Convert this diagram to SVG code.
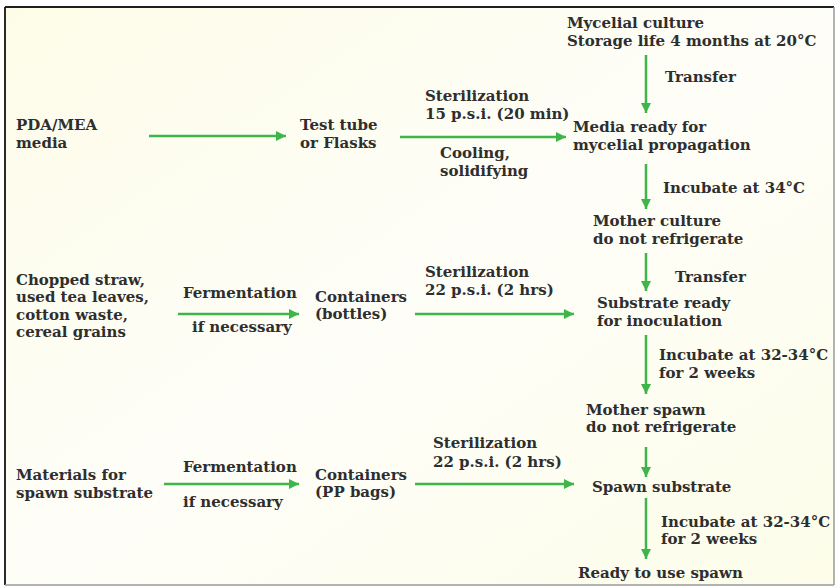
<svg xmlns="http://www.w3.org/2000/svg" width="836" height="587" viewBox="0 0 836 587">
<defs>
<linearGradient id="bg" x1="0" y1="0" x2="1" y2="1">
<stop offset="0" stop-color="#fdfce8"/>
<stop offset="0.5" stop-color="#fefef8"/>
<stop offset="1" stop-color="#fdfdea"/>
</linearGradient>
<marker id="ah" markerUnits="userSpaceOnUse" markerWidth="12" markerHeight="10" refX="10" refY="5" orient="auto">
<path d="M0,0 L10,5 L0,10 Z" fill="#3db54a"/>
</marker>
<style>
text{font-family:"DejaVu Serif","Liberation Serif",serif;font-weight:bold;font-size:15px;fill:#2e2e2e}
.c line{stroke:#3db54a;stroke-width:2.5;marker-end:url(#ah)}
</style>
</defs>
<rect x="0" y="0" width="836" height="587" fill="#ffffff"/>
<rect x="5" y="7" width="829" height="578" fill="url(#bg)"/>
<line x1="5" y1="7" x2="834" y2="7" stroke="#1e1e1e" stroke-width="2"/>
<line x1="5" y1="7" x2="5" y2="585" stroke="#2a2a2a" stroke-width="2"/>
<line x1="834" y1="7" x2="834" y2="585" stroke="#9a9a9a" stroke-width="1.5"/>
<line x1="5" y1="585" x2="834" y2="585" stroke="#9a9a9a" stroke-width="1.5"/>

<g class="c" id="connectors">
<line x1="149" y1="136" x2="286" y2="136"/>
<line x1="400" y1="137" x2="566" y2="137"/>
<line x1="646" y1="55" x2="646" y2="113"/>
<line x1="646" y1="164" x2="646" y2="209"/>
<line x1="646" y1="253" x2="646" y2="291"/>
<line x1="646" y1="335" x2="646" y2="394"/>
<line x1="646" y1="447" x2="646" y2="477"/>
<line x1="646" y1="498" x2="646" y2="559"/>
<line x1="178" y1="314" x2="299" y2="314"/>
<line x1="415" y1="314" x2="574" y2="314"/>
<line x1="164" y1="484" x2="299" y2="484"/>
<line x1="415" y1="484" x2="574" y2="484"/>
</g>

<g id="pda"><text x="16" y="130">PDA/MEA</text><text x="16" y="148">media</text></g>
<g id="testtube"><text x="300" y="130">Test tube</text><text x="300" y="148">or Flasks</text></g>
<g id="steril1"><text x="425" y="101">Sterilization</text><text x="425" y="119">15 p.s.i. (20 min)</text></g>
<g id="cooling"><text x="440" y="158">Cooling,</text><text x="440" y="176">solidifying</text></g>
<g id="mycelial"><text x="567" y="28">Mycelial culture</text><text x="567" y="46">Storage life 4 months at 20°C</text></g>
<g id="transfer1"><text x="665" y="82">Transfer</text></g>
<g id="media"><text x="573" y="132">Media ready for</text><text x="573" y="150">mycelial propagation</text></g>
<g id="inc1"><text x="663" y="193">Incubate at 34°C</text></g>
<g id="mother"><text x="593" y="226">Mother culture</text><text x="593" y="244">do not refrigerate</text></g>
<g id="transfer2"><text x="675" y="282">Transfer</text></g>
<g id="chopped"><text x="16" y="285">Chopped straw,</text><text x="16" y="302">used tea leaves,</text><text x="16" y="320">cotton waste,</text><text x="16" y="337">cereal grains</text></g>
<g id="ferm1"><text x="183" y="298">Fermentation</text><text x="192" y="332">if necessary</text></g>
<g id="cont1"><text x="315" y="302">Containers</text><text x="315" y="319">(bottles)</text></g>
<g id="steril2"><text x="425" y="277">Sterilization</text><text x="425" y="295">22 p.s.i. (2 hrs)</text></g>
<g id="substrate"><text x="597" y="308">Substrate ready</text><text x="597" y="326">for inoculation</text></g>
<g id="inc2"><text x="659" y="360">Incubate at 32-34°C</text><text x="659" y="378">for 2 weeks</text></g>
<g id="motherspawn"><text x="586" y="415">Mother spawn</text><text x="586" y="432">do not refrigerate</text></g>
<g id="materials"><text x="16" y="480">Materials for</text><text x="16" y="498">spawn substrate</text></g>
<g id="ferm2"><text x="183" y="472">Fermentation</text><text x="183" y="507">if necessary</text></g>
<g id="cont2"><text x="315" y="480">Containers</text><text x="315" y="497">(PP bags)</text></g>
<g id="steril3"><text x="433" y="448">Sterilization</text><text x="433" y="467">22 p.s.i. (2 hrs)</text></g>
<g id="spawnsub"><text x="592" y="492">Spawn substrate</text></g>
<g id="inc3"><text x="661" y="527">Incubate at 32-34°C</text><text x="661" y="544">for 2 weeks</text></g>
<g id="ready"><text x="578" y="578">Ready to use spawn</text></g>
</svg>
